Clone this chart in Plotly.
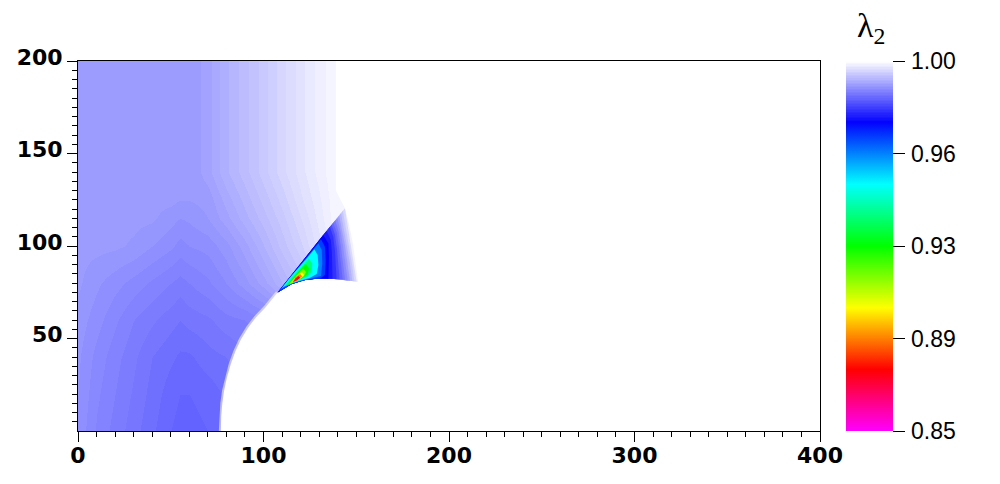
import plotly.graph_objects as go

# ---- colour bar data ----
color_levels = [0.85, 0.875, 0.90, 0.925, 0.95, 0.975, 1.0]
color_rgb = [(255, 0, 255), (255, 0, 0), (255, 255, 0), (0, 255, 0), (0, 255, 255), (0, 0, 255), (255, 255, 255)]
cbar_ticks = [0.85, 0.8875, 0.925, 0.9625, 1.0]
cbar_labels = ["\u200a0.85", "\u200a0.89", "\u200a0.93", "\u200a0.96", "\u200a1.00"]

# ---- far field lambda_2 ----
field_x = [0, 10, 20, 30, 40, 50, 55, 60, 70, 80, 90, 100, 110, 120, 130, 139, 400]
field_y = [0, 20, 40, 60, 80, 100, 115, 125, 140, 170, 200]
row_y0 = [.98925, .988, .98725, .9865, .98575, .985, .98475, .98475, .985, .9855, .98625, .9875, .98875, .99, .99125, .9925, 1]
row_y20 = [.98938, .98825, .9875, .98675, .986, .98525, .985, .985, .98525, .98575, .98625, .9875, .98875, .99, .99125, .9925, 1]
row_y40 = [.9895, .9885, .98775, .987, .98625, .98575, .9855, .9855, .986, .98625, .98675, .9875, .98875, .99, .99125, .9925, 1]
row_y60 = [.98975, .989, .98825, .9875, .987, .9865, .98625, .9865, .98675, .98725, .9875, .988, .98875, .99, .99125, .9925, 1]
row_y80 = [.99013, .9895, .989, .9885, .988, .9875, .98725, .9875, .988, .98875, .98975, .991, .9925, .994, .9955, .9975, 1]
row_y100 = [.9902, .9902, .99013, .98988, .98938, .98888, .9885, .98875, .989, .98975, .991, .9925, .994, .9955, .99725, .99875, 1]
row_y115 = [.9902, .9902, .9902, .9902, .99013, .98963, .98938, .9895, .99, .991, .99225, .9935, .99475, .99625, .99775, .99925, 1]
row_y125 = [.9902, .9902, .9902, .9902, .9902, .9902, .99, .99, .99025, .9915, .99275, .994, .99525, .99675, .998, .99925, 1]
row_y140 = [.9902, .9902, .9902, .9902, .9902, .9902, .9902, .99005, .991, .99238, .9935, .99475, .996, .99725, .99838, .99938, 1]
row_y170 = [.9902, .9902, .9902, .9902, .9902, .9902, .9902, .99005, .991, .99238, .9935, .99475, .996, .99725, .99838, .99938, 1]
row_y200 = [.9902, .9902, .9902, .9902, .9902, .9902, .9902, .99005, .991, .99238, .9935, .99475, .996, .99725, .99838, .99938, 1]
field_z = [row_y0, row_y20, row_y40, row_y60, row_y80, row_y100, row_y115, row_y125, row_y140, row_y170, row_y200]

# ---- body outline and the outer edge of the field ----
body_x = [77, 77.2, 77.8, 78.8, 80.3, 82.3, 84.8, 87.8, 91.6, 96, 100.8, 104, 107.6]
body_y = [0, 8, 15, 22, 29, 36, 43, 49.5, 55.7, 61.5, 66.5, 70.4, 74.8]
edge_x = [77, 77.2, 77.8, 78.8, 80.3, 82.3, 84.8, 87.8, 91.6, 96, 100.8, 104, 107.6, 143.9, 139, 139, 400, 400]
edge_y = [0, 8, 15, 22, 29, 36, 43, 49.5, 55.7, 61.5, 66.5, 70.4, 74.8, 120.4, 130, 200, 200, 0]

# ---- iso-level loops of the wedge behind the shock ----
arc_x = [143.9, 136.7, 129.6, 122.4, 115.2, 107.6]
arc_y = [81.6, 82.3, 82.5, 81.6, 79.5, 74.8]
loop_levels = [0.99875, 0.99625, 0.9945, 0.9925, 0.9905, 0.98875, 0.98675, 0.985, 0.98250, 0.98, 0.9775, 0.975,
               0.969, 0.9625, 0.95, 0.9375, 0.925, 0.9125, 0.90, 0.8875, 0.875, 0.868]
loop_a0_x = [143.9, 146.0, 148.2, 150.0, 151.0] + arc_x
loop_a0_y = [120.4, 112.2, 101.4, 88.8, 80.5] + arc_y
loop_a_x = [143.9, 145.2, 147.2, 149.0, 150.2] + arc_x
loop_a_y = [120.4, 112.2, 101.4, 88.8, 80.7] + arc_y
loop_a1_x = [142.8, 144.2, 146.0, 147.8, 149.0] + arc_x
loop_a1_y = [119.0, 111.3, 101.4, 89.7, 80.9] + arc_y
loop_b_x = [141.8, 143.2, 144.8, 146.6, 147.9] + arc_x
loop_b_y = [117.7, 110.4, 101.4, 90.6, 81.1] + arc_y
loop_b1_x = [140.8, 142.3, 143.8, 145.3, 146.6] + arc_x
loop_b1_y = [116.4, 109.5, 101.0, 90.6, 81.2] + arc_y
loop_c_x = [139.8, 141.4, 142.8, 144.1, 145.4] + arc_x[1:]
loop_c_y = [115.1, 108.6, 100.5, 90.6, 81.4] + arc_y[1:]
loop_c1_x = [138.7, 140.4, 141.7, 142.9, 144.0] + arc_x[1:]
loop_c1_y = [113.9, 108.1, 100.0, 90.6, 81.7] + arc_y[1:]
loop_d_x = [137.6, 139.4, 140.7, 141.8, 142.7] + arc_x[1:]
loop_d_y = [112.6, 107.7, 99.6, 90.6, 82.0] + arc_y[1:]
loop_d1_x = [136.7, 138.5, 139.6, 140.4, 141.0] + arc_x[1:]
loop_d1_y = [111.5, 106.3, 98.7, 90.2, 82.1] + arc_y[1:]
loop_e_x = [135.8, 137.6, 138.5, 139.1, 139.4] + arc_x[1:]
loop_e_y = [110.4, 105.0, 97.8, 89.7, 82.2] + arc_y[1:]
loop_e1_x = [134.0, 136.3, 136.9, 137.2, 137.2] + arc_x[2:]
loop_e1_y = [108.2, 103.2, 96.0, 88.3, 82.3] + arc_y[2:]
loop_f_x = [132.2, 135.0, 135.3, 135.3, 135.0] + arc_x[2:]
loop_f_y = [106.0, 101.4, 94.2, 87.0, 82.3] + arc_y[2:]
loop_g_x = [131.0, 133.1, 133.5, 133.1, 130.5] + arc_x[3:]
loop_g_y = [103.6, 99.6, 92.4, 84.3, 82.5] + arc_y[3:]
loop_h_x = [129.6, 131.4, 131.7, 131.0, 124.2, 118.8, 111.6, 108.9, 119.1, 126.0]
loop_h_y = [101.4, 97.8, 90.6, 83.8, 82.0, 80.9, 78.0, 76.2, 88.5, 96.9]
loop_i_x = [127.4, 129.2, 129.6, 128.7, 125.1, 120.6, 116.1, 111.6, 109.8, 114.3, 118.8, 123.3]
loop_i_y = [98.2, 95.1, 89.7, 84.9, 82.9, 81.6, 80.2, 78.4, 77.1, 83.0, 87.9, 93.3]
loop_j_x = [124.5, 126.3, 126.0, 123.3, 118.8, 114.3, 111.6, 115.2, 119.7]
loop_j_y = [93.3, 90.6, 86.1, 83.4, 81.6, 79.8, 78.5, 83.0, 87.9]
loop_k_x = [122.7, 124.5, 123.8, 120.6, 116.1, 112.5, 116.1, 119.7]
loop_k_y = [90.6, 87.9, 84.9, 82.5, 80.5, 78.7, 83.0, 87.0]
loop_l_x = [121.5, 122.9, 121.5, 117.9, 113.7, 116.6, 119.1]
loop_l_y = [87.9, 85.8, 83.4, 81.3, 79.3, 82.7, 85.6]
loop_m_x = [120.6, 122.0, 119.7, 116.1, 114.3, 117.0]
loop_m_y = [86.1, 84.3, 82.3, 80.3, 79.6, 82.7]
loop_n_x = [119.7, 120.9, 118.8, 115.5, 117.3]
loop_n_y = [84.9, 83.6, 82.0, 80.3, 83.1]
loop_o_x = [118.8, 119.8, 117.9, 115.9, 117.3]
loop_o_y = [83.8, 82.9, 81.4, 80.5, 82.5]
loop_p_x = [118.1, 118.8, 117.0, 116.6]
loop_p_y = [82.7, 82.3, 81.1, 81.4]
loops = [(loop_a0_x, loop_a0_y), (loop_a_x, loop_a_y), (loop_a1_x, loop_a1_y), (loop_b_x, loop_b_y),
         (loop_b1_x, loop_b1_y), (loop_c_x, loop_c_y), (loop_c1_x, loop_c1_y), (loop_d_x, loop_d_y),
         (loop_d1_x, loop_d1_y), (loop_e_x, loop_e_y), (loop_e1_x, loop_e1_y), (loop_f_x, loop_f_y),
         (loop_g_x, loop_g_y), (loop_h_x, loop_h_y), (loop_i_x, loop_i_y), (loop_j_x, loop_j_y),
         (loop_k_x, loop_k_y), (loop_l_x, loop_l_y), (loop_m_x, loop_m_y), (loop_n_x, loop_n_y),
         (loop_o_x, loop_o_y), (loop_p_x, loop_p_y)]

ZMIN, ZMAX = color_levels[0], color_levels[-1]


def color_at(z):
    z = max(ZMIN, min(ZMAX, z))
    for i in range(len(color_levels) - 1):
        lo, hi = color_levels[i], color_levels[i + 1]
        if z <= hi:
            t = (z - lo) / (hi - lo)
            a, b = color_rgb[i], color_rgb[i + 1]
            return "rgb(%d,%d,%d)" % tuple(round(a[k] + (b[k] - a[k]) * t) for k in range(3))


def norm(z):
    return (z - ZMIN) / (ZMAX - ZMIN)


# continuous below the blue stop, banded between blue and white as in the picture
scale = [[norm(l), color_at(l)] for l in color_levels[:-2]]
BAND = 0.000625
n_bands = round((ZMAX - color_levels[-2]) / BAND)
for b in range(n_bands):
    lo = color_levels[-2] + b * BAND
    hi = lo + BAND
    c = color_at(lo + BAND / 2)
    scale.append([norm(lo), c])
    scale.append([min(1.0, norm(hi)), c])
scale[-1] = [1.0, "rgb(255,255,255)"]

fig = go.Figure()
fig.add_trace(go.Heatmap(
    x=field_x, y=field_y, z=field_z, zmin=ZMIN, zmax=ZMAX, zsmooth="best",
    colorscale=scale, hoverinfo="skip",
    colorbar=dict(
        x=(846 - 78) / 742, xanchor="left", xpad=0, y=0.5, yanchor="middle", ypad=0,
        len=1, lenmode="fraction", thickness=47, thicknessmode="pixels",
        outlinewidth=0, tickmode="array", tickvals=cbar_ticks, ticktext=cbar_labels,
        ticks="outside", ticklen=12, tickwidth=1, tickcolor="black",
        tickfont=dict(family="Liberation Sans", size=23, color="black"),
    ),
))
# everything right of the shock and inside the body is unaffected (white)
fig.add_trace(go.Scatter(x=edge_x, y=edge_y, mode="lines", fill="toself", fillcolor="white",
                         line=dict(width=0), hoverinfo="skip", showlegend=False))
for level, (lx, ly) in zip(loop_levels, loops):
    fig.add_trace(go.Scatter(x=lx, y=ly, mode="lines", fill="toself", fillcolor=color_at(level),
                             line=dict(width=0), hoverinfo="skip", showlegend=False))
fig.add_trace(go.Scatter(x=body_x, y=body_y, mode="lines",
                         line=dict(color="rgba(255,255,255,0.55)", width=4),
                         hoverinfo="skip", showlegend=False))

tick_font = dict(family="DejaVu Sans", size=22, color="black", weight="bold")
fig.update_xaxes(
    range=[0, 400], tickmode="array", tickvals=[0, 100, 200, 300, 400], ticklabelstandoff=-5,
    ticks="outside", ticklen=10, tickwidth=1, tickcolor="black", tickfont=tick_font,
    showline=True, mirror=True, linecolor="black", linewidth=1, showgrid=False, zeroline=False,
    minor=dict(tickmode="array", tickvals=list(range(10, 400, 10)), ticks="outside", ticklen=5,
               tickwidth=1, tickcolor="black", showgrid=False),
)
fig.update_yaxes(
    range=[0, 200], tickmode="array", tickvals=[50, 100, 150, 200], ticklabelshift=-4,
    ticks="outside", ticklen=10, tickwidth=1, tickcolor="black", tickfont=tick_font,
    showline=True, mirror=True, linecolor="black", linewidth=1, showgrid=False, zeroline=False,
    minor=dict(tickmode="array", tickvals=list(range(5, 200, 5)), ticks="outside", ticklen=5,
               tickwidth=1, tickcolor="black", showgrid=False),
)
fig.update_layout(
    width=1000, height=484, margin=dict(l=78, r=180, t=61, b=53),
    paper_bgcolor="white", plot_bgcolor="white", showlegend=False,
    annotations=[dict(text="λ<sub>2</sub>", xref="paper", yref="paper",
                      x=(871 - 78) / 742, y=1.0, xanchor="center", yanchor="bottom", yshift=10,
                      showarrow=False, font=dict(family="Liberation Serif", size=34, color="black"))],
)
fig.write_html("out.html", config={"displayModeBar": False}, post_script="document.body.style.margin='0';")
